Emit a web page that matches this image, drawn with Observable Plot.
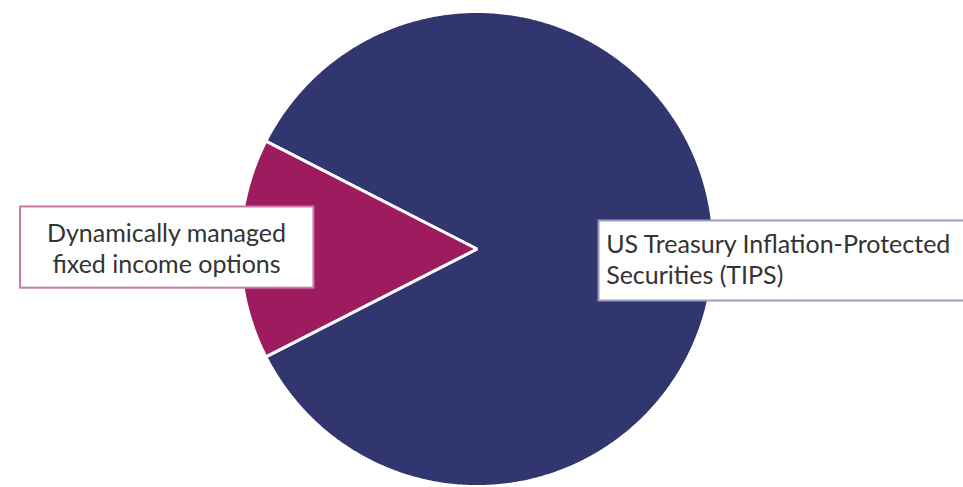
<!DOCTYPE html>
<html>
<head>
<meta charset="utf-8">
<script src="https://cdn.jsdelivr.net/npm/d3@7"></script>
<script src="https://cdn.jsdelivr.net/npm/@observablehq/plot@0.6"></script>
<style>
  html, body { margin: 0; padding: 0; background: #fff; overflow: hidden; }
  #chart svg { display: block; }
</style>
</head>
<body>
<div id="chart"></div>
<script>
// ---- data ----
const categories = ["US Treasury Inflation-Protected Securities (TIPS)", "Dynamically managed fixed income options"];
const labels = ["US Treasury Inflation-Protected\nSecurities (TIPS)", "Dynamically managed\nfixed income options"];
const shares = [85, 15];
const colors = ["#32366f", "#9e1b5f"];
const borderColors = ["#9a9cc0", "#c979a6"];

// ---- pie layout (angles from d3.pie) ----
const smallShare = shares[1] / d3.sum(shares);
const start = -Math.PI / 2 + smallShare * Math.PI; // center small slice on the left
const pie = d3.pie().sort(null).value(d => d.value).startAngle(start).endAngle(start + 2 * Math.PI);
const arcs = pie(categories.map((c, i) => ({category: c, value: shares[i], i})));

const points = [];
for (const a of arcs) {
  points.push({slice: a.data.category, x: 0, y: 0});
  const n = Math.max(2, Math.ceil((a.endAngle - a.startAngle) / 0.01));
  for (let k = 0; k <= n; k++) {
    const t = a.startAngle + (a.endAngle - a.startAngle) * k / n;
    points.push({slice: a.data.category, x: Math.sin(t), y: Math.cos(t)});
  }
}

// label boxes placed by slice mid-angle
const labelLayout = [
  {i: 0, r: 0.545, anchor: "start", dy: -0.04, box: [0.515, 2.08, 0.118, -0.219]},
  {i: 1, r: 1.31, anchor: "middle", dy: 0.008, box: [-1.926, -0.688, 0.177, -0.165]}
];
const labelData = labelLayout.map(l => {
  const a = arcs[l.i];
  const mid = (a.startAngle + a.endAngle) / 2;
  return {
    label: labels[l.i], category: categories[l.i], anchor: l.anchor,
    x: Math.sin(mid) * l.r, y: Math.cos(mid) * l.r + l.dy,
    x1: l.box[0], x2: l.box[1], y1: l.box[2], y2: l.box[3],
    border: borderColors[l.i]
  };
});

const chart = Plot.plot({
  width: 963,
  height: 487,
  margin: 0,
  style: {background: "#fff", fontFamily: "Lato, sans-serif"},
  x: {domain: [-1, 1], range: [239.5, 713.5], axis: null},
  y: {domain: [-1, 1], range: [486, 11], axis: null},
  color: {domain: categories, range: colors},
  marks: [
    Plot.line(points, {x: "x", y: "y", z: "slice", fill: "slice", stroke: "#fff", strokeWidth: 3, curve: "linear-closed", strokeLinejoin: "miter"}),
    Plot.rect(labelData, {x1: "x1", x2: "x2", y1: "y1", y2: "y2", fill: "#fff", stroke: "border", strokeWidth: 2}),
    Plot.text(labelData.filter(d => d.anchor === "start"), {x: "x", y: "y", text: "label", textAnchor: "start", fontSize: 25, lineHeight: 1.25, fill: "#333"}),
    Plot.text(labelData.filter(d => d.anchor === "middle"), {x: "x", y: "y", text: "label", textAnchor: "middle", fontSize: 25, lineHeight: 1.24, fill: "#333"})
  ]
});
document.getElementById("chart").appendChild(chart);
</script>
</body>
</html>
